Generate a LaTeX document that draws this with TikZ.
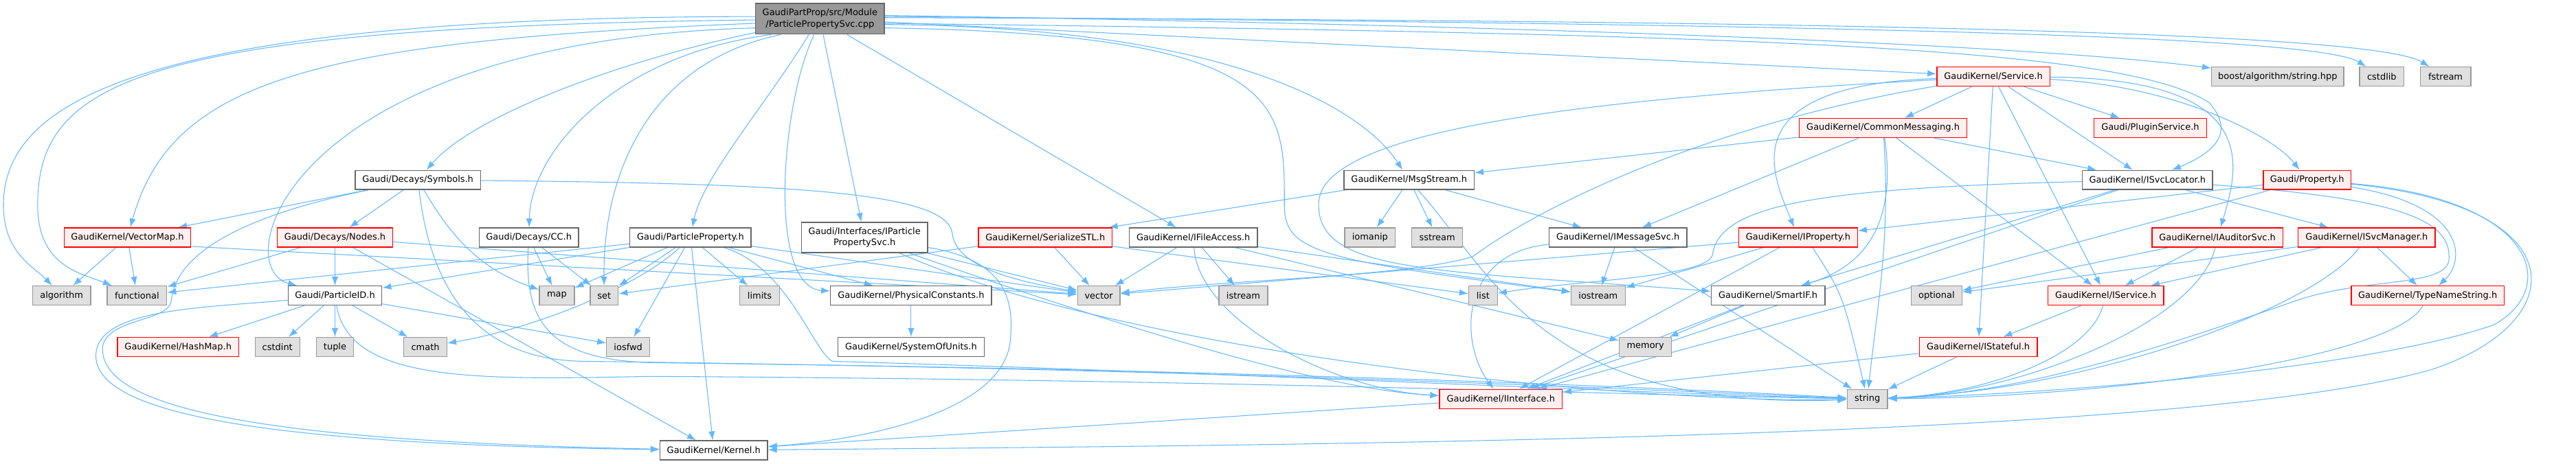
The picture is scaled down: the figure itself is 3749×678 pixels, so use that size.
\documentclass[tikz,border=0pt]{standalone}
\usepackage{fontspec}
\setmainfont{DejaVu Sans}
\usetikzlibrary{arrows.meta}
\pgfdeclarelayer{edges}
\pgfsetlayers{edges,main}
\definecolor{edgeblue}{HTML}{63B8FF}
\definecolor{incfill}{HTML}{FFF0F0}
\definecolor{sysfill}{HTML}{E0E0E0}
\definecolor{sysline}{HTML}{999999}
\definecolor{hdrline}{HTML}{666666}
\definecolor{topfill}{HTML}{999999}

\begin{document}
\begin{tikzpicture}[x=0.02cm, y=-0.02cm,
  every node/.style={font=\fontsize{7.4}{9.6}\selectfont, inner sep=0pt, minimum height=0.56cm, line width=0.75pt, align=center},
  hdr/.style={draw=hdrline, fill=white},
  inc/.style={draw=red, fill=incfill},
  sys/.style={draw=sysline, fill=sysfill},
  topfile/.style={draw=hdrline, fill=topfill, minimum height=0.9cm},
  wd/.style={minimum width=#1*0.02cm},
  dep/.style={draw=edgeblue, line width=0.6pt, -{Latex[length=7.4pt,width=5.4pt]}}]
\begin{pgfonlayer}{edges}
\path[use as bounding box, fill=white] (0,0) rectangle (3749,678);
\end{pgfonlayer}

% files
\node[topfile, wd=188] (main) at (1197,27.5) {GaudiPartProp/src/Module\\/ParticlePropertySvc.cpp};
\node[inc, wd=165] (svc) at (2910,112) {GaudiKernel/Service.h};
\node[sys, wd=193] (boost) at (3325,112) {boost/algorithm/string.hpp};
\node[inc, wd=245] (cmsg) at (2749,187) {GaudiKernel/CommonMessaging.h};
\node[inc, wd=164] (plugin) at (3139,187) {Gaudi/PluginService.h};
\node[hdr, wd=183] (sym) at (610,263) {Gaudi/Decays/Symbols.h};
\node[hdr, wd=190] (msg) at (2057,263) {GaudiKernel/MsgStream.h};
\node[hdr, wd=190] (isvcl) at (3135,263) {GaudiKernel/ISvcLocator.h};
\node[inc, wd=128] (prop) at (3368,263) {Gaudi/Property.h};
\node[inc, wd=185] (vmap) at (186,347) {GaudiKernel/VectorMap.h};
\node[inc, wd=168] (nodes) at (489,347) {Gaudi/Decays/Nodes.h};
\node[hdr, wd=145] (cc) at (772,347) {Gaudi/Decays/CC.h};
\node[hdr, wd=177] (pprop) at (1008,347) {Gaudi/ParticleProperty.h};
\node[hdr, wd=184, minimum height=0.88cm] (ipps) at (1262,347) {Gaudi/Interfaces/IParticle\\PropertySvc.h};
\node[inc, wd=195] (ser) at (1526,347) {GaudiKernel/SerializeSTL.h};
\node[hdr, wd=187] (ifa) at (1742,347) {GaudiKernel/IFileAccess.h};
\node[hdr, wd=201] (imsg) at (2362,347) {GaudiKernel/IMessageSvc.h};
\node[inc, wd=173] (iprop) at (2625,347) {GaudiKernel/IProperty.h};
\node[inc, wd=191] (iaud) at (3237,347) {GaudiKernel/IAuditorSvc.h};
\node[inc, wd=200] (isvcm) at (3455,347) {GaudiKernel/ISvcManager.h};
\node[hdr, wd=137] (pid) at (489,432) {Gaudi/ParticleID.h};
\node[hdr, wd=235] (physc) at (1330,432) {GaudiKernel/PhysicalConstants.h};
\node[hdr, wd=166] (smartif) at (2581,432) {GaudiKernel/SmartIF.h};
\node[inc, wd=169] (isvc) at (3074,432) {GaudiKernel/IService.h};
\node[inc, wd=223] (tns) at (3544,432) {GaudiKernel/TypeNameString.h};
\node[inc, wd=177] (hashmap) at (260,507) {GaudiKernel/HashMap.h};
\node[hdr, wd=214] (sysu) at (1330,507) {GaudiKernel/SystemOfUnits.h};
\node[inc, wd=172] (istate) at (2888,507) {GaudiKernel/IStateful.h};
\node[inc, wd=179] (iint) at (2191,583) {GaudiKernel/IInterface.h};
\node[hdr, wd=157] (kernel) at (1042,658) {GaudiKernel/Kernel.h};
% system headers
\foreach \nm/\x/\y/\w in {cstdlib/3477/112/65, fstream/3570/112/74, iomanip/2000/347/74,
  sstream/2098/347/74, algorithm/90/432/85, functional/200/432/87, map/813/432/51,
  set/882/432/41, limits/1109/432/58, vector/1604/432/62, istream/1815/432/71,
  list/2165/432/42, iostream/2333/432/79, optional/2827/432/74, cstdint/405/507/65,
  tuple/489/507/54, cmath/621/507/63, iosfwd/917/507/63, memory/2402/507/76,
  string/2726/583/59}
  \node[sys, wd=\w] (\nm) at (\x,\y) {\nm};

\begin{pgfonlayer}{edges}
% straight includes
\foreach \a/\b in {main/ipps, main/ifa, main/svc, sym/vmap, sym/nodes,
  vmap/algorithm, vmap/functional, nodes/functional, nodes/pid, nodes/kernel, nodes/vector,
  cc/map, cc/set, pid/hashmap, pid/cstdint, pid/tuple, pid/cmath, pid/iosfwd,
  pprop/pid, pprop/functional, pprop/map, pprop/set, pprop/iosfwd, pprop/limits,
  pprop/physc, pprop/vector, pprop/kernel, physc/sysu, ipps/vector, ser/vector,
  ser/set, ser/list, ifa/vector, ifa/istream, ifa/memory, ifa/iostream,
  msg/iomanip, msg/sstream, msg/imsg, msg/ser, imsg/iostream, imsg/string,
  iprop/vector, iprop/iostream, iprop/iint, smartif/memory, smartif/iint, iint/kernel,
  cmsg/msg, cmsg/imsg, cmsg/isvcl, cmsg/isvc, svc/cmsg, svc/plugin, svc/isvcl,
  svc/istate, svc/isvc, isvcl/smartif, isvcl/iint, isvcl/isvcm, prop/iprop, prop/iint,
  iaud/optional, iaud/isvc, isvcm/isvc, isvcm/optional, isvcm/tns,
  isvc/istate, istate/string, istate/iint}
  \draw[dep] (\a) -- (\b);
\draw[dep] (vmap.-8) -- (vector);

% curved includes from the source file
\draw[dep] (main.178) .. controls (200,25) and (5,150) .. (5,300) .. controls (5,370) and (50,390) .. (algorithm);
\draw[dep] (main.181) .. controls (200,40) and (55,120) .. (55,300) .. controls (55,390) and (120,400) .. (functional);
\draw[dep] (main.184) .. controls (450,60) and (250,120) .. (vmap);
\draw[dep] (main.188) .. controls (420,60) and (330,390) .. (pid);
\draw[dep] (main.192) .. controls (900,90) and (690,170) .. (sym);
\draw[dep] (main.198) .. controls (900,80) and (775,220) .. (cc);
\draw[dep] (main.202) .. controls (950,90) and (880,250) .. (set);
\draw[dep] (main.235) .. controls (1120,150) and (1025,260) .. (pprop);
\draw[dep] (main.250) .. controls (1140,150) and (1120,420) .. (physc);
\draw[dep] (main.355) .. controls (1800,40) and (1990,160) .. (msg);
\draw[dep] (main.352) .. controls (1880,50) and (1875,150) .. (1875,300) .. controls (1875,370) and (1930,380) .. (iostream);
\draw[dep] (main.356) .. controls (2600,50) and (3100,70) .. (3225,150) .. controls (3260,190) and (3240,220) .. (isvcl);
\draw[dep] (main.3) .. controls (2400,40) and (3000,70) .. (boost);
\draw[dep] (main.2) .. controls (2600,35) and (3380,50) .. (cstdlib);
\draw[dep] (main.1) .. controls (2800,30) and (3470,50) .. (fstream);

% curved includes of the headers
\draw[dep] (sym) .. controls (330,320) and (255,380) .. (250,440) .. controls (245,470) and (160,465) .. (150,505) .. controls (140,600) and (400,645) .. (kernel);
\draw[dep] (sym) .. controls (650,330) and (690,390) .. (map);
\draw[dep] (sym) .. controls (630,430) and (700,525) .. (850,528) .. controls (1800,540) and (2400,570) .. (string);
\draw[dep] (sym) .. controls (1150,268) and (1380,280) .. (1390,340) .. controls (1395,390) and (1480,410) .. (vector);
\draw[dep] (cc) .. controls (765,470) and (800,525) .. (950,530) .. controls (1800,540) and (2400,565) .. (string);
\draw[dep] (pid) .. controls (510,560) and (700,555) .. (950,550) .. controls (1800,555) and (2400,578) .. (string);
\draw[dep] (pid) .. controls (300,450) and (140,450) .. (140,520) .. controls (140,610) and (420,650) .. (kernel);
\draw[dep] (pprop) .. controls (930,420) and (780,480) .. (cmath);
\draw[dep] (pprop) .. controls (1150,390) and (1185,510) .. (1215,528) .. controls (1800,545) and (2400,575) .. (string);
\draw[dep] (ipps) .. controls (1470,380) and (1480,440) .. (1475,495) .. controls (1470,590) and (1300,640) .. (kernel);
\draw[dep] (ipps) .. controls (1700,500) and (1950,570) .. (iint);
\draw[dep] (ipps) .. controls (1650,520) and (2400,590) .. (string);
\draw[dep] (ifa) .. controls (1750,470) and (1950,570) .. (iint);
\draw[dep] (msg) .. controls (2180,400) and (2250,600) .. (string);
\draw[dep] (imsg) .. controls (2130,370) and (2130,500) .. (iint);
\draw[dep] (iprop.-35) .. controls (2690,430) .. (string);
\draw[dep] (cmsg) .. controls (2770,330) and (2720,390) .. (smartif);
\draw[dep] (cmsg) .. controls (2760,350) and (2740,450) .. (string);
\draw[dep] (svc) .. controls (3300,115) and (3270,240) .. (iaud);
\draw[dep] (svc) .. controls (3180,125) and (3320,200) .. (prop);
\draw[dep] (svc) .. controls (2520,125) and (2590,260) .. (iprop);
\draw[dep] (svc) .. controls (2500,180) and (2250,300) .. (2150,375) .. controls (2050,405) and (1800,408) .. (vector);
\draw[dep] (svc) .. controls (2400,140) and (1920,180) .. (1925,300) .. controls (1925,400) and (2100,395) .. (smartif);
\draw[dep] (isvcl) .. controls (2650,275) and (2510,300) .. (2500,372) .. controls (2495,405) and (2300,410) .. (list);
\draw[dep] (isvcl) .. controls (3500,290) and (3580,320) .. (3575,380) .. controls (3570,420) and (3450,405) .. (3350,440) .. controls (3150,510) and (2950,575) .. (string);
\draw[dep] (prop) .. controls (3600,300) and (3600,380) .. (tns);
\draw[dep] (prop) .. controls (3700,290) and (3740,420) .. (3640,475) .. controls (3450,540) and (3000,575) .. (string);
\draw[dep] (prop) .. controls (3760,300) and (3760,470) .. (3550,540) .. controls (3200,640) and (2000,650) .. (kernel);
\draw[dep] (iaud) .. controls (3210,470) and (2950,575) .. (string);
\draw[dep] (isvcm) .. controls (3380,450) and (3050,570) .. (string);
\draw[dep] (isvc) .. controls (3050,520) and (2900,575) .. (string);
\draw[dep] (tns) .. controls (3500,520) and (3100,580) .. (string);
\end{pgfonlayer}
\end{tikzpicture}
\end{document}
